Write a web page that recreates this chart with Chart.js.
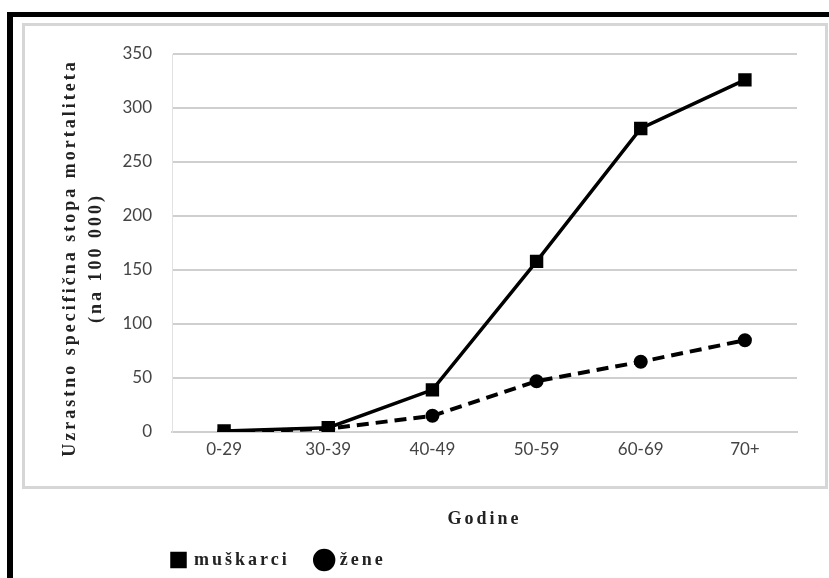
<!DOCTYPE html>
<html>
<head>
<meta charset="utf-8">
<script src="https://cdn.jsdelivr.net/npm/chart.js@4.4.1/dist/chart.umd.min.js"></script>
<style>
  html, body { margin: 0; padding: 0; background: #fff; }
  #wrap { position: relative; width: 829px; height: 578px; overflow: hidden; }
  #frame { position: absolute; left: 7px; top: 12px; width: 840px; height: 600px;
           border-left: 6px solid #000; border-top: 5px solid #000; }
  #box { position: absolute; left: 22px; top: 23px; width: 800px; height: 460px;
         border: 3px solid #d6d6d6; }
  canvas { position: absolute; left: 0; top: 0; }
</style>
</head>
<body>
<div id="wrap">
  <div id="frame"></div>
  <div id="box"></div>
  <canvas id="chart" width="829" height="578"></canvas>
</div>
<script>
// Data
const ageGroups = ['0-29', '30-39', '40-49', '50-59', '60-69', '70+'];
const men = [1, 4, 39, 158, 281, 326];
const women = [0, 3, 15, 47, 65, 85];
const yTicks = [0, 50, 100, 150, 200, 250, 300, 350];

const serifBold = { family: 'Liberation Serif', weight: 'bold' };
const gridGray = '#cfcfcf';
const spacing = '3px';
const legendGap = 28;

// Serif titles and legend are letter-spaced in the original; ticks are not
const spacingPlugin = {
  id: 'spacing',
  afterLayout(chart) {
    // legend sits under the plot's left edge, just below "Godine"
    chart.legend.left = chart.chartArea.left - legendGap;
    chart.legend.top = chart.scales.x.bottom - 8;
  },
  beforeDraw(chart) {
    chart.ctx.letterSpacing = spacing;
  },
  beforeDatasetsDraw(chart) {
    chart.ctx.letterSpacing = '0px';
  }
};

const ctx = document.getElementById('chart').getContext('2d');
const mortalityChart = new Chart(ctx, {
  type: 'line',
  data: {
    labels: ageGroups,
    datasets: [{
      label: 'muškarci',
      data: men,
      borderColor: '#000',
      backgroundColor: '#000',
      borderWidth: 3.5,
      pointStyle: 'rect',
      pointRadius: 7,
      pointBackgroundColor: '#000',
      pointBorderColor: '#000',
      tension: 0
    }, {
      label: 'žene',
      data: women,
      borderColor: '#000',
      backgroundColor: '#000',
      borderWidth: 4,
      borderDash: [12, 7],
      pointStyle: 'circle',
      pointRadius: 5,
      pointBackgroundColor: '#000',
      pointBorderColor: '#000',
      tension: 0
    }]
  },
  options: {
    responsive: false,
    animation: false,
    layout: {
      padding: { left: 57, right: 32, top: 54, bottom: -9 }
    },
    scales: {
      x: {
        offset: true,
        grid: { display: false, drawTicks: false },
        border: { display: true, color: gridGray, width: 2 },
        ticks: { color: '#444', font: { family: 'Lato', size: 17 }, padding: 7, z: 1 },
        title: {
          display: true,
          text: 'Godine',
          color: '#222',
          font: { ...serifBold, size: 18, lineHeight: 1.3 },
          padding: { top: 0, bottom: 0 }
        },
        afterFit(scale) { scale.height = 99; }
      },
      y: {
        min: 0,
        max: 350,
        afterBuildTicks(scale) {
          scale.ticks = yTicks.map(v => ({ value: v }));
        },
        grid: { color: gridGray, lineWidth: 2, drawTicks: false },
        border: { display: true, color: '#e2e2e2', width: 1 },
        ticks: { color: '#444', font: { family: 'Lato', size: 17 }, padding: 20, z: 1 },
        title: {
          display: true,
          // trailing spaces push the centred title a little lower, as in the original
          text: ['Uzrastno specifična stopa mortaliteta    ', '(na 100 000)    '],
          color: '#222',
          font: { ...serifBold, size: 18, lineHeight: 1.45 },
          padding: { top: 0, bottom: 0 }
        },
        afterFit(scale) { scale.width = 115; }
      }
    },
    plugins: {
      legend: {
        position: 'bottom',
        align: 'start',
        fullSize: false,
        labels: {
          usePointStyle: true,
          boxWidth: 13,
          boxHeight: 13,
          padding: legendGap,
          color: '#222',
          font: { ...serifBold, size: 18 }
        }
      },
      tooltip: { enabled: false }
    }
  },
  plugins: [spacingPlugin]
});
</script>
</body>
</html>
